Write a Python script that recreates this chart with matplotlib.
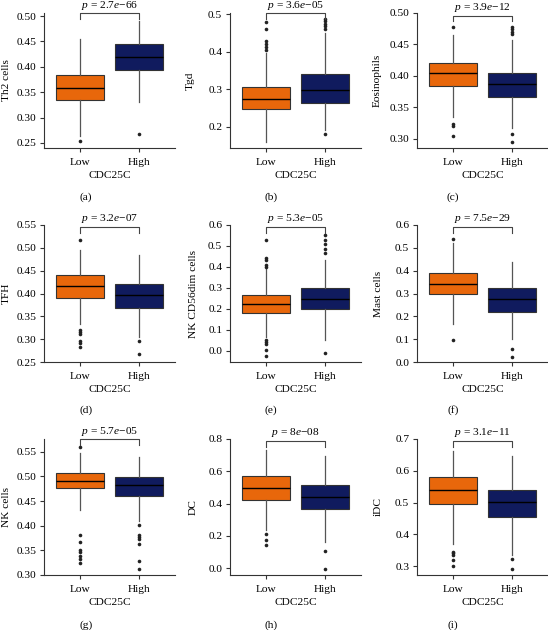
import matplotlib
matplotlib.use('Agg')
import matplotlib.pyplot as plt
from matplotlib.ticker import FormatStrFormatter
import numpy as np

# data (box stats per immune cell type)
cells = ['Th2 cells', 'Tgd', 'Eosinophils', 'TFH', 'NK CD56dim cells',
         'Mast cells', 'NK cells', 'DC', 'iDC']
p_labels = ['2.7e−66', '3.6e−05', '3.9e−12', '3.2e−07', '5.3e−05',
            '7.5e−29', '5.7e−05', '8e−08', '3.1e−11']
panel_tags = ['(a)', '(b)', '(c)', '(d)', '(e)', '(f)', '(g)', '(h)', '(i)']
groups = ['Low', 'High']

low_med = [0.359, 0.275, 0.404, 0.416, 0.222, 0.341, 0.490, 0.497, 0.541]
low_q1 = [0.335, 0.248, 0.3845, 0.391, 0.180, 0.296, 0.4766, 0.424, 0.494]
low_q3 = [0.383, 0.307, 0.421, 0.441, 0.265, 0.391, 0.507, 0.570, 0.581]
low_lo = [0.263, 0.160, 0.335, 0.334, 0.065, 0.167, 0.432, 0.235, 0.370]
low_hi = [0.455, 0.396, 0.465, 0.496, 0.390, 0.523, 0.548, 0.733, 0.663]
low_out = [[0.253],
           [0.48, 0.46, 0.43, 0.42, 0.413, 0.406],
           [0.478, 0.324, 0.321, 0.304],
           [0.517, 0.321, 0.316, 0.312, 0.297, 0.292, 0.283],
           [0.529, 0.443, 0.435, 0.407, 0.40, 0.049, 0.041, 0.033, 0.002, -0.025],
           [0.540, 0.097],
           [0.560, 0.381, 0.367, 0.350, 0.347, 0.338, 0.333, 0.324],
           [0.209, 0.172, 0.140],
           [0.345, 0.341, 0.336, 0.318, 0.300]]

high_med = [0.420, 0.297, 0.3865, 0.396, 0.249, 0.276, 0.482, 0.442, 0.502]
high_q1 = [0.394, 0.263, 0.366, 0.368, 0.198, 0.221, 0.461, 0.365, 0.453]
high_q3 = [0.444, 0.341, 0.404, 0.420, 0.299, 0.324, 0.4995, 0.515, 0.541]
high_lo = [0.330, 0.190, 0.317, 0.304, 0.049, 0.102, 0.409, 0.164, 0.334]
high_hi = [0.491, 0.449, 0.457, 0.485, 0.435, 0.436, 0.540, 0.692, 0.647]
high_out = [[0.268],
            [0.487, 0.481, 0.475, 0.468, 0.461, 0.181],
            [0.478, 0.474, 0.470, 0.467, 0.308, 0.295],
            [0.295, 0.268],
            [0.550, 0.529, 0.509, 0.487, 0.466, -0.009],
            [0.058, 0.022],
            [0.401, 0.382, 0.377, 0.373, 0.363, 0.329, 0.313],
            [0.107, -0.004],
            [0.322, 0.291]]

# axis ranges / ticks
ylims = [(0.240, 0.506), (0.143, 0.5035), (0.2855, 0.496),
         (0.25, 0.546), (-0.054, 0.592), (0.0, 0.593),
         (0.30, 0.576), (-0.043, 0.79), (0.272, 0.695)]
yticks = [np.arange(0.25, 0.501, 0.05), np.arange(0.2, 0.51, 0.1), np.arange(0.30, 0.501, 0.05),
          np.arange(0.25, 0.551, 0.05), np.arange(0.0, 0.61, 0.1), np.arange(0.0, 0.61, 0.1),
          np.arange(0.30, 0.551, 0.05), np.arange(0.0, 0.81, 0.2), np.arange(0.3, 0.71, 0.1)]
yfmt = ['%.2f', '%.1f', '%.2f', '%.2f', '%.1f', '%.1f', '%.2f', '%.1f', '%.1f']

colors = ['#E8670B', '#101B5E']

plt.rcParams['font.family'] = ['Liberation Serif', 'DejaVu Serif']
plt.rcParams['font.size'] = 8.2
plt.rcParams['mathtext.fontset'] = 'custom'
plt.rcParams['mathtext.rm'] = 'Liberation Serif'
plt.rcParams['mathtext.it'] = 'Liberation Serif:italic'

W, H = 548, 630
fig = plt.figure(figsize=(W / 100, H / 100), dpi=100)

rows_px = [(13, 148), (225, 362), (439, 575)]
cols_px = [44, 230, 417]
ax_w = 131
ylab_px = [6, 190, 377, 6, 193, 378, 6, 193, 378]
tag_x = [86, 271, 453]
tag_y = [197, 410, 625]

for i in range(9):
    r, c = divmod(i, 3)
    top, bot = rows_px[r]
    left = cols_px[c]
    ax = fig.add_axes([left / W, 1 - bot / H, ax_w / W, (bot - top) / H])

    stats = [
        dict(med=low_med[i], q1=low_q1[i], q3=low_q3[i], whislo=low_lo[i],
             whishi=low_hi[i], fliers=low_out[i]),
        dict(med=high_med[i], q1=high_q1[i], q3=high_q3[i], whislo=high_lo[i],
             whishi=high_hi[i], fliers=high_out[i]),
    ]
    bp = ax.bxp(stats, positions=[1, 2], widths=0.8, patch_artist=True, showcaps=False,
                boxprops=dict(edgecolor='#333333', linewidth=0.8),
                medianprops=dict(color='black', linewidth=1.0),
                whiskerprops=dict(color='#555555', linewidth=0.9),
                flierprops=dict(marker='o', markerfacecolor='#222222',
                                markeredgecolor='none', markersize=2.6))
    for patch, col in zip(bp['boxes'], colors):
        patch.set_facecolor(col)

    ax.set_xlim(0.4, 2.6)
    ax.set_ylim(*ylims[i])
    ax.set_yticks(yticks[i])
    ax.yaxis.set_major_formatter(FormatStrFormatter(yfmt[i]))
    ax.set_xticks([1, 2])
    ax.set_xticklabels(groups)
    for s in ['top', 'right']:
        ax.spines[s].set_visible(False)
    for s in ['left', 'bottom']:
        ax.spines[s].set_color('#333333')
        ax.spines[s].set_linewidth(0.8)
    ax.tick_params(length=3, width=0.8, color='#333333', pad=2.5)
    ax.tick_params(axis='x', pad=4)

    ax.set_xlabel('CDC25C', labelpad=3)
    ax.set_ylabel(cells[i])
    ax.yaxis.set_label_coords((ylab_px[i] + 5 - left) / ax_w, 0.5)

    # significance bracket
    ytop = ylims[i][1]
    tick = (ylims[i][1] - ylims[i][0]) * 6 / (bot - top)
    ax.plot([1, 1, 2, 2], [ytop - tick, ytop, ytop, ytop - tick],
            color='#444444', lw=0.8, clip_on=False)
    ax.annotate(r'$p$ = ' + p_labels[i].replace('e', r'$e$'), xy=(1.5, ytop),
                xytext=(0, 1), textcoords='offset points',
                ha='center', va='bottom', annotation_clip=False)

    fig.text(tag_x[c] / W, 1 - tag_y[r] / H, panel_tags[i], ha='center', va='center')

fig.savefig('out.png', dpi=100)
